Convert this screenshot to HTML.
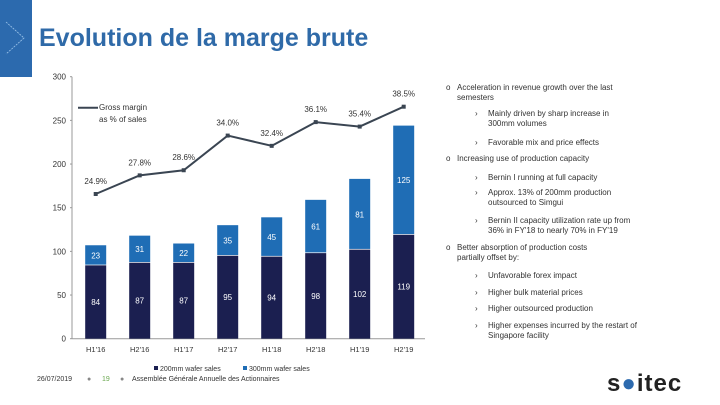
<!DOCTYPE html>
<html><head><meta charset="utf-8"><style>
body{margin:0;width:720px;height:405px;background:#fff;font-family:"Liberation Sans",sans-serif;position:relative;overflow:hidden}
.t{position:absolute;font-size:8px;color:#333;white-space:nowrap;line-height:10px}
</style></head><body>
<div style="position:absolute;left:0;top:0;width:32px;height:77px;background:#2c6aae"></div>
<svg style="position:absolute;left:0;top:0" width="32" height="77"><polyline points="6,22 24,38 6,54" fill="none" stroke="#9cc4ea" stroke-width="0.8" stroke-dasharray="2,1"/></svg>
<div style="position:absolute;left:39px;top:24px;font-size:25px;font-weight:bold;color:#2f6aa8">Evolution de la marge brute</div>

<svg id="chart" style="position:absolute;left:0;top:0" width="440" height="405"></svg>

<div>
<div class="t" style="left:446px;top:83px">o</div><div class="t" style="left:457px;top:83px">Acceleration in revenue growth over the last<br>semesters</div>
<div class="t" style="left:475px;top:109px">›</div><div class="t" style="left:488px;top:109px">Mainly driven by sharp increase in<br>300mm volumes</div>
<div class="t" style="left:475px;top:138px">›</div><div class="t" style="left:488px;top:138px">Favorable mix and price effects</div>
<div class="t" style="left:446px;top:154px">o</div><div class="t" style="left:457px;top:154px">Increasing use of production capacity</div>
<div class="t" style="left:475px;top:173px">›</div><div class="t" style="left:488px;top:173px">Bernin I running at full capacity</div>
<div class="t" style="left:475px;top:188px">›</div><div class="t" style="left:488px;top:188px">Approx. 13% of 200mm production<br>outsourced to Simgui</div>
<div class="t" style="left:475px;top:216px">›</div><div class="t" style="left:488px;top:216px">Bernin II capacity utilization rate up from<br>36% in FY'18 to nearly 70% in FY'19</div>
<div class="t" style="left:446px;top:243px">o</div><div class="t" style="left:457px;top:243px">Better absorption of production costs<br>partially offset by:</div>
<div class="t" style="left:475px;top:271px">›</div><div class="t" style="left:488px;top:271px">Unfavorable forex impact</div>
<div class="t" style="left:475px;top:288px">›</div><div class="t" style="left:488px;top:288px">Higher bulk material prices</div>
<div class="t" style="left:475px;top:304px">›</div><div class="t" style="left:488px;top:304px">Higher outsourced production</div>
<div class="t" style="left:475px;top:321px">›</div><div class="t" style="left:488px;top:321px">Higher expenses incurred by the restart of<br>Singapore facility</div>
</div>

<div>
<div class="t" style="left:37px;top:375px;font-size:7px">26/07/2019</div>
<div class="t" style="left:87px;top:375px;font-size:7px;color:#888">●</div>
<div class="t" style="left:102px;top:375px;font-size:7px;color:#6aa84f">19</div>
<div class="t" style="left:120px;top:375px;font-size:7px;color:#888">●</div>
<div class="t" style="left:132px;top:375px;font-size:7px">Assemblée Générale Annuelle des Actionnaires</div>
<div style="position:absolute;left:607px;top:370px;font-size:24px;font-weight:bold;color:#222;letter-spacing:1px">s<span style="color:#2c6aae">●</span>itec</div>
</div>

<script>
const categories=["H1'16","H2'16","H1'17","H2'17","H1'18","H2'18","H1'19","H2'19"];
const sales200=[84,87,87,95,94,98,102,119];
const sales300=[23,31,22,35,45,61,81,125];
const margin=[24.9,27.8,28.6,34.0,32.4,36.1,35.4,38.5];
const yTicks=[0,50,100,150,200,250,300];
const NS="http://www.w3.org/2000/svg";
const svg=document.getElementById('chart');
const y=v=>338.7-v*262/300;
const x=i=>95.7+i*44;
const yM=v=>194-(v-24.9)*6.42;
const bw=21;
function mk(t,a,txt){const e=document.createElementNS(NS,t);for(const k in a)e.setAttribute(k,a[k]);if(txt!==undefined)e.textContent=txt;svg.appendChild(e);return e;}
let ax=mk('line',{x1:72,y1:y(0),x2:72,y2:y(300),stroke:'#999','stroke-width':1});


ax=mk('line',{x1:72,y1:y(0),x2:425,y2:y(0),stroke:'#999','stroke-width':1});


yTicks.forEach(v=>{
 const l=mk('text',{x:66,y:y(v)+3,'font-size':8,'text-anchor':'end',fill:'#333'},v);
 
 
 mk('line',{x1:70,y1:y(v),x2:72,y2:y(v),stroke:'#999'});
});
categories.forEach((c,i)=>{
 const cx=x(i);
 const b1=mk('rect',{x:cx-bw/2,y:y(sales200[i]),width:bw,height:y(0)-y(sales200[i]),fill:'#1b1f50'});
 
 
 const top=sales200[i]+sales300[i];
 const b2=mk('rect',{x:cx-bw/2,y:y(top),width:bw,height:y(sales200[i])-y(top)-0.7,fill:'#1f6db5'});
 
 
 mk('text',{x:cx,y:(y(0)+y(sales200[i]))/2+3,'font-size':8,'text-anchor':'middle',fill:'#fff'},sales200[i]);
 mk('text',{x:cx,y:(y(sales200[i])+y(top))/2+3,'font-size':8,'text-anchor':'middle',fill:'#fff'},sales300[i]);
 const xl=mk('text',{x:cx,y:352,'font-size':7.5,'text-anchor':'middle',fill:'#333'},c);
 
 
});
const pl=mk('polyline',{points:margin.map((v,i)=>x(i)+','+yM(v)).join(' '),fill:'none',stroke:'#3a4552','stroke-width':2});


margin.forEach((v,i)=>{
 const p=mk('rect',{x:x(i)-2,y:yM(v)-2,width:4,height:4,fill:'#3a4552'});
 
 
 mk('text',{x:x(i),y:yM(v)-10,'font-size':8,'text-anchor':'middle',fill:'#333'},v.toFixed(1)+'%');
});
let lg=mk('line',{x1:78,y1:107.7,x2:98,y2:107.7,stroke:'#3a4552','stroke-width':2});


mk('text',{x:99,y:110,'font-size':8,fill:'#333'},'Gross margin');
mk('text',{x:99,y:122,'font-size':8,fill:'#333'},'as % of sales');
lg=mk('rect',{x:154,y:366,width:4,height:4,fill:'#1b1f50'});


mk('text',{x:160,y:371,'font-size':7,fill:'#333'},'200mm wafer sales');
lg=mk('rect',{x:243,y:366,width:4,height:4,fill:'#1f6db5'});


mk('text',{x:249,y:371,'font-size':7,fill:'#333'},'300mm wafer sales');
</script>
</body></html>
